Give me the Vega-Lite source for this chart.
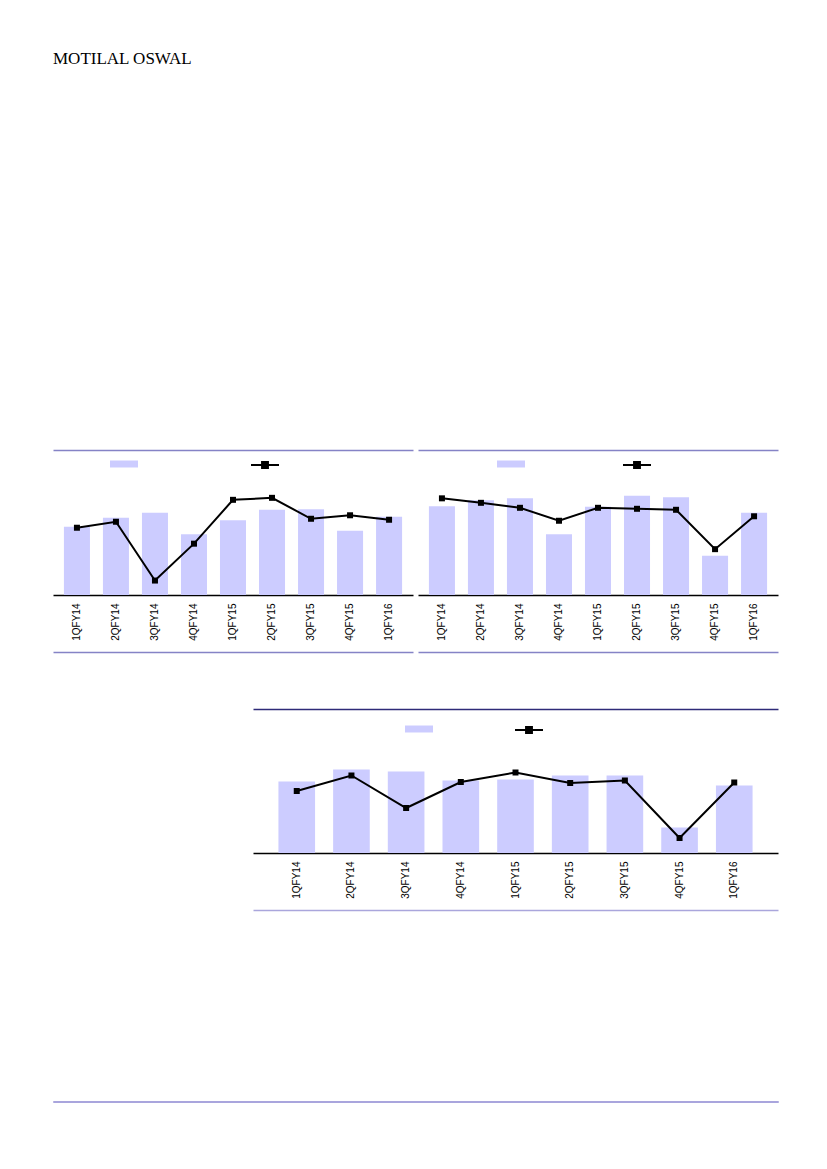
{
  "$schema": "https://vega.github.io/schema/vega-lite/v6.json",
  "background": "white",
  "padding": {"left": 52, "top": 50, "right": 10, "bottom": 10},
  "title": {"text": "MOTILAL OSWAL", "anchor": "start", "frame": "group", "font": "Liberation Serif", "fontSize": 17, "fontWeight": "normal", "color": "#000", "offset": 382},
  "config": {
    "view": {"stroke": null},
    "axis": {"labelFont": "Liberation Sans"}
  },
  "datasets": {
    "c1": [
      {"q": "1QFY14", "bar": 13.7, "line": 13.5},
      {"q": "2QFY14", "bar": 15.5, "line": 14.7},
      {"q": "3QFY14", "bar": 16.5, "line": 2.9},
      {"q": "4QFY14", "bar": 12.2, "line": 10.3},
      {"q": "1QFY15", "bar": 15.0, "line": 19.1},
      {"q": "2QFY15", "bar": 17.1, "line": 19.5},
      {"q": "3QFY15", "bar": 17.2, "line": 15.3},
      {"q": "4QFY15", "bar": 12.9, "line": 16.0},
      {"q": "1QFY16", "bar": 15.7, "line": 15.1}
    ],
    "c2": [
      {"q": "1QFY14", "bar": 17.8, "line": 19.4},
      {"q": "2QFY14", "bar": 19.0, "line": 18.5},
      {"q": "3QFY14", "bar": 19.4, "line": 17.5},
      {"q": "4QFY14", "bar": 12.2, "line": 14.9},
      {"q": "1QFY15", "bar": 17.7, "line": 17.5},
      {"q": "2QFY15", "bar": 19.9, "line": 17.3},
      {"q": "3QFY15", "bar": 19.6, "line": 17.1},
      {"q": "4QFY15", "bar": 7.9, "line": 9.2},
      {"q": "1QFY16", "bar": 16.5, "line": 15.8}
    ],
    "c3": [
      {"q": "1QFY14", "bar": 14.3, "line": 12.4},
      {"q": "2QFY14", "bar": 16.7, "line": 15.5},
      {"q": "3QFY14", "bar": 16.3, "line": 9.0},
      {"q": "4QFY14", "bar": 14.5, "line": 14.2},
      {"q": "1QFY15", "bar": 14.7, "line": 16.1},
      {"q": "2QFY15", "bar": 15.5, "line": 14.0},
      {"q": "3QFY15", "bar": 15.5, "line": 14.5},
      {"q": "4QFY15", "bar": 5.1, "line": 3.0},
      {"q": "1QFY16", "bar": 13.5, "line": 14.1}
    ]
  },
  "resolve": {"scale": {"color": "independent", "stroke": "independent"}, "legend": {"color": "independent", "stroke": "independent"}},
  "spacing": 185,
  "vconcat": [
    {
      "spacing": 56,
      "resolve": {"scale": {"color": "independent", "stroke": "independent"}, "legend": {"color": "independent", "stroke": "independent"}},
      "vconcat": [
        {
          "spacing": 5,
          "resolve": {"scale": {"color": "independent", "stroke": "independent"}, "legend": {"color": "independent", "stroke": "independent"}},
          "hconcat": [
            {
              "width": 360, "height": 145,
              "data": {"name": "c1"},
              "layer": [
                {
                  "mark": {"type": "bar"},
                  "encoding": {
                    "x": {"field": "q", "type": "ordinal", "sort": null, "scale": {"paddingInner": 0.333, "paddingOuter": 0.28},
                      "axis": {"orient": "bottom", "title": null, "ticks": false, "tickSize": 0, "labelAngle": -90, "labelPadding": 8, "labelFont": "Liberation Sans", "labelFontSize": 10, "labelColor": "#000", "domainColor": "#000", "domainWidth": 1.5}},
                    "y": {"field": "bar", "type": "quantitative", "scale": {"domain": [0, 29.1]}, "axis": null},
                    "color": {"datum": "bar", "scale": {"range": ["#ccccff"]},
                      "legend": {"orient": "none", "legendX": 57, "legendY": 0, "padding": 0, "title": null, "labelExpr": "''", "symbolType": "M-1,-0.25H1V0.25H-1Z", "symbolSize": 784, "symbolStrokeWidth": 0, "symbolOpacity": 1}}
                  }
                },
                {
                  "mark": {"type": "line", "strokeWidth": 2},
                  "encoding": {
                    "x": {"field": "q", "type": "ordinal", "sort": null,
                      "axis": {"orient": "top", "title": null, "labels": false, "ticks": false, "domainColor": "#8583c6", "domainWidth": 1.5}},
                    "y": {"field": "line", "type": "quantitative", "scale": {"domain": [0, 29.1]}, "axis": null},
                    "stroke": {"datum": "line", "scale": {"range": ["#000"]},
                      "legend": {"orient": "none", "legendX": 197, "legendY": 0, "padding": 0, "title": null, "labelExpr": "''", "symbolType": "M-1,0H1M-0.21,-0.21H0.21V0.21H-0.21Z", "symbolSize": 784, "symbolStrokeWidth": 2, "symbolFillColor": "#000"}}
                  }
                },
                {
                  "mark": {"type": "point", "shape": "square", "filled": true, "size": 36, "color": "#000", "opacity": 1},
                  "encoding": {
                    "x": {"field": "q", "type": "ordinal", "sort": null,
                      "axis": {"orient": "bottom", "offset": 57, "title": null, "labels": false, "ticks": false, "domainColor": "#8583c6", "domainWidth": 1.5}},
                    "y": {"field": "line", "type": "quantitative", "scale": {"domain": [0, 29.1]}, "axis": null}
                  }
                }
              ],
              "resolve": {"scale": {"y": "independent"}, "axis": {"x": "independent"}}
            },
            {
              "width": 360, "height": 145,
              "data": {"name": "c2"},
              "layer": [
                {
                  "mark": {"type": "bar"},
                  "encoding": {
                    "x": {"field": "q", "type": "ordinal", "sort": null, "scale": {"paddingInner": 0.333, "paddingOuter": 0.28},
                      "axis": {"orient": "bottom", "title": null, "ticks": false, "tickSize": 0, "labelAngle": -90, "labelPadding": 8, "labelFont": "Liberation Sans", "labelFontSize": 10, "labelColor": "#000", "domainColor": "#000", "domainWidth": 1.5}},
                    "y": {"field": "bar", "type": "quantitative", "scale": {"domain": [0, 29.1]}, "axis": null},
                    "color": {"datum": "bar", "scale": {"range": ["#ccccff"]},
                      "legend": {"orient": "none", "legendX": 79, "legendY": 0, "padding": 0, "title": null, "labelExpr": "''", "symbolType": "M-1,-0.25H1V0.25H-1Z", "symbolSize": 784, "symbolStrokeWidth": 0, "symbolOpacity": 1}}
                  }
                },
                {
                  "mark": {"type": "line", "strokeWidth": 2},
                  "encoding": {
                    "x": {"field": "q", "type": "ordinal", "sort": null,
                      "axis": {"orient": "top", "title": null, "labels": false, "ticks": false, "domainColor": "#8583c6", "domainWidth": 1.5}},
                    "y": {"field": "line", "type": "quantitative", "scale": {"domain": [0, 29.1]}, "axis": null},
                    "stroke": {"datum": "line", "scale": {"range": ["#000"]},
                      "legend": {"orient": "none", "legendX": 204, "legendY": 0, "padding": 0, "title": null, "labelExpr": "''", "symbolType": "M-1,0H1M-0.21,-0.21H0.21V0.21H-0.21Z", "symbolSize": 784, "symbolStrokeWidth": 2, "symbolFillColor": "#000"}}
                  }
                },
                {
                  "mark": {"type": "point", "shape": "square", "filled": true, "size": 36, "color": "#000", "opacity": 1},
                  "encoding": {
                    "x": {"field": "q", "type": "ordinal", "sort": null,
                      "axis": {"orient": "bottom", "offset": 57, "title": null, "labels": false, "ticks": false, "domainColor": "#8583c6", "domainWidth": 1.5}},
                    "y": {"field": "line", "type": "quantitative", "scale": {"domain": [0, 29.1]}, "axis": null}
                  }
                }
              ],
              "resolve": {"scale": {"y": "independent"}, "axis": {"x": "independent"}}
            }
          ]
        },
        {
          "spacing": 10,
          "resolve": {"scale": {"color": "independent", "stroke": "independent"}, "legend": {"color": "independent", "stroke": "independent"}},
          "hconcat": [
            {
              "width": 190, "height": 10,
              "data": {"values": [{}]},
              "mark": {"type": "text"},
              "encoding": {"text": {"value": ""}}
            },
            {
              "width": 525, "height": 144,
              "data": {"name": "c3"},
              "layer": [
                {
                  "mark": {"type": "bar"},
                  "encoding": {
                    "x": {"field": "q", "type": "ordinal", "sort": null, "scale": {"paddingInner": 0.33, "paddingOuter": 0.465},
                      "axis": {"orient": "bottom", "title": null, "ticks": false, "tickSize": 0, "labelAngle": -90, "labelPadding": 8, "labelFont": "Liberation Sans", "labelFontSize": 10, "labelColor": "#000", "domainColor": "#000", "domainWidth": 1.5}},
                    "y": {"field": "bar", "type": "quantitative", "scale": {"domain": [0, 28.8]}, "axis": null},
                    "color": {"datum": "bar", "scale": {"range": ["#ccccff"]},
                      "legend": {"orient": "none", "legendX": 152, "legendY": 6, "padding": 0, "title": null, "labelExpr": "''", "symbolType": "M-1,-0.25H1V0.25H-1Z", "symbolSize": 784, "symbolStrokeWidth": 0, "symbolOpacity": 1}}
                  }
                },
                {
                  "mark": {"type": "line", "strokeWidth": 2},
                  "encoding": {
                    "x": {"field": "q", "type": "ordinal", "sort": null,
                      "axis": {"orient": "top", "title": null, "labels": false, "ticks": false, "domainColor": "#2e2b78", "domainWidth": 1.5}},
                    "y": {"field": "line", "type": "quantitative", "scale": {"domain": [0, 28.8]}, "axis": null},
                    "stroke": {"datum": "line", "scale": {"range": ["#000"]},
                      "legend": {"orient": "none", "legendX": 261, "legendY": 6, "padding": 0, "title": null, "labelExpr": "''", "symbolType": "M-1,0H1M-0.21,-0.21H0.21V0.21H-0.21Z", "symbolSize": 784, "symbolStrokeWidth": 2, "symbolFillColor": "#000"}}
                  }
                },
                {
                  "mark": {"type": "point", "shape": "square", "filled": true, "size": 36, "color": "#000", "opacity": 1},
                  "encoding": {
                    "x": {"field": "q", "type": "ordinal", "sort": null,
                      "axis": {"orient": "bottom", "offset": 57, "title": null, "labels": false, "ticks": false, "domainColor": "#aaa6dc", "domainWidth": 1.5}},
                    "y": {"field": "line", "type": "quantitative", "scale": {"domain": [0, 28.8]}, "axis": null}
                  }
                }
              ],
              "resolve": {"scale": {"y": "independent"}, "axis": {"x": "independent"}}
            }
          ]
        }
      ]
    },
    {
      "width": 725, "height": 1,
      "data": {"values": [{}]},
      "mark": {"type": "text"},
      "encoding": {"text": {"value": ""}},
      "view": {"stroke": "#a9a5dd", "strokeWidth": 1}
    }
  ]
}
